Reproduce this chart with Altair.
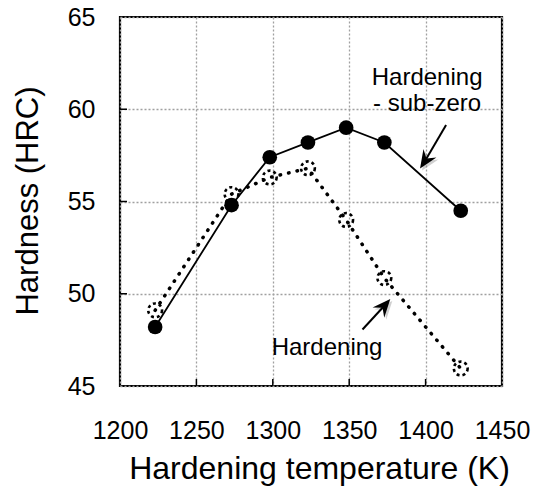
import altair as alt
import pandas as pd

# ---- data ----
temps = [1223, 1273, 1298, 1323, 1348, 1373, 1423]
hard_subzero = [48.2, 54.8, 57.4, 58.2, 59.0, 58.2, 54.5]
hard_plain = [49.1, 55.4, 56.3, 56.8, 54.0, 50.85, 45.95]
x_ticks = [1200, 1250, 1300, 1350, 1400, 1450]
y_ticks = [45, 50, 55, 60, 65]
x_inner = [1250, 1300, 1350, 1400]
y_inner = [50, 55, 60]

# annotations (data units)
label_text = ["Hardening", "- sub-zero", "Hardening"]
label_x = [1401, 1401, 1335.5]
label_y = [61.3, 59.9, 46.7]
arrow_id = ["a", "a", "b", "b"]
arrow_x = [1413.4, 1399.6, 1358.7, 1373.0]
arrow_y = [59.15, 57.2, 48.06, 49.35]
head_x = [1399.6, 1373.0]
head_y = [57.2, 49.35]
head_angle = [213, 41]

FONT = "Liberation Sans"
W, H = 382, 369

df_sub = pd.DataFrame({"T": temps, "HRC": hard_subzero})
df_pl = pd.DataFrame({"T": temps, "HRC": hard_plain})
df_lab = pd.DataFrame({"T": label_x, "HRC": label_y, "txt": label_text})
df_arr = pd.DataFrame({"T": arrow_x, "HRC": arrow_y, "id": arrow_id})
df_head = pd.DataFrame({"T": head_x, "HRC": head_y, "ang": head_angle})
df_xt = pd.DataFrame({"T": x_inner})
df_yt = pd.DataFrame({"HRC": y_inner})

xs = alt.Scale(domain=[1200, 1450], nice=False, zero=False)
ys = alt.Scale(domain=[45, 65], nice=False, zero=False)

x_axis = alt.Axis(
    values=x_ticks, format="d", labelFontSize=25, labelFont=FONT, labelColor="black",
    labelBaseline="alphabetic", labelPadding=52, ticks=False, tickSize=0, domain=False,
    grid=True, gridDash=[2, 2], gridColor="#a0a0a0", gridWidth=1.3,
    title="Hardening temperature (K)", titleFont=FONT, titleFontSize=32,
    titleFontWeight="normal", titleColor="black", titleX=199, titleY=92,
    titleBaseline="alphabetic", titleAlign="center", titleAnchor="middle",
    labelFlush=False,
)
y_axis = alt.Axis(
    values=y_ticks, labelFontSize=25, labelFont=FONT, labelColor="black",
    labelPadding=25, ticks=False, tickSize=0, domain=False,
    grid=True, gridDash=[2, 2], gridColor="#a0a0a0", gridWidth=1.3,
    title="Hardness (HRC)", titleFont=FONT, titleFontSize=31,
    titleFontWeight="normal", titleColor="black", titleX=-92, titleY=H / 2 - 1,
    titleAngle=270, titleBaseline="middle", titleAlign="center", labelFlush=False,
)

plain_line = alt.Chart(df_pl).mark_line(
    color="black", strokeWidth=3.5, strokeDash=[0.5, 8.2], strokeCap="round"
).encode(x=alt.X("T:Q", scale=xs, axis=x_axis), y=alt.Y("HRC:Q", scale=ys, axis=y_axis))

plain_pts = alt.Chart(df_pl).mark_point(
    shape="circle", filled=False, size=190, color="black", strokeWidth=2.6,
    strokeDash=[3, 3], opacity=1
).encode(x=alt.X("T:Q", scale=xs), y=alt.Y("HRC:Q", scale=ys))

sub_line = alt.Chart(df_sub).mark_line(color="black", strokeWidth=1.8).encode(
    x=alt.X("T:Q", scale=xs), y=alt.Y("HRC:Q", scale=ys))

sub_pts = alt.Chart(df_sub).mark_point(
    shape="circle", filled=True, size=215, color="black", opacity=1
).encode(x=alt.X("T:Q", scale=xs), y=alt.Y("HRC:Q", scale=ys))

labels = alt.Chart(df_lab).mark_text(
    font=FONT, fontSize=24, color="black", align="center", baseline="alphabetic"
).encode(x=alt.X("T:Q", scale=xs), y=alt.Y("HRC:Q", scale=ys), text="txt:N")

ARROW = "M0,-1 L0.85,1 L0,0.3 L-0.85,1 Z"

head_shadow = alt.Chart(df_head).mark_point(
    shape=ARROW, filled=True, size=330, color="#777777", opacity=0.35, xOffset=2, yOffset=2
).encode(x=alt.X("T:Q", scale=xs), y=alt.Y("HRC:Q", scale=ys),
         angle=alt.Angle("ang:Q", scale=None))

shafts = alt.Chart(df_arr).mark_line(color="black", strokeWidth=2).encode(
    x=alt.X("T:Q", scale=xs), y=alt.Y("HRC:Q", scale=ys), detail="id:N")

heads = alt.Chart(df_head).mark_point(
    shape=ARROW, filled=True, size=330, color="black", opacity=1
).encode(x=alt.X("T:Q", scale=xs), y=alt.Y("HRC:Q", scale=ys),
         angle=alt.Angle("ang:Q", scale=None))

xticks_in = alt.Chart(df_xt).mark_rule(color="black", strokeWidth=1.5).encode(
    x=alt.X("T:Q", scale=xs), y=alt.value(H), y2=alt.value(H - 7))
yticks_in = alt.Chart(df_yt).mark_rule(color="black", strokeWidth=1.5).encode(
    y=alt.Y("HRC:Q", scale=ys), x=alt.value(0), x2=alt.value(7))

chart = alt.layer(
    plain_line, plain_pts, sub_line, sub_pts, head_shadow, shafts, heads, labels,
    xticks_in, yticks_in
).properties(
    width=W, height=H,
    autosize=alt.AutoSizeParams(type="none"),
    padding={"left": 120, "top": 17, "right": 37, "bottom": 104},
    background="white",
).configure_view(stroke="black", strokeWidth=2.2)

chart.save("out.html", embed_options={"renderer": "svg", "actions": False})
